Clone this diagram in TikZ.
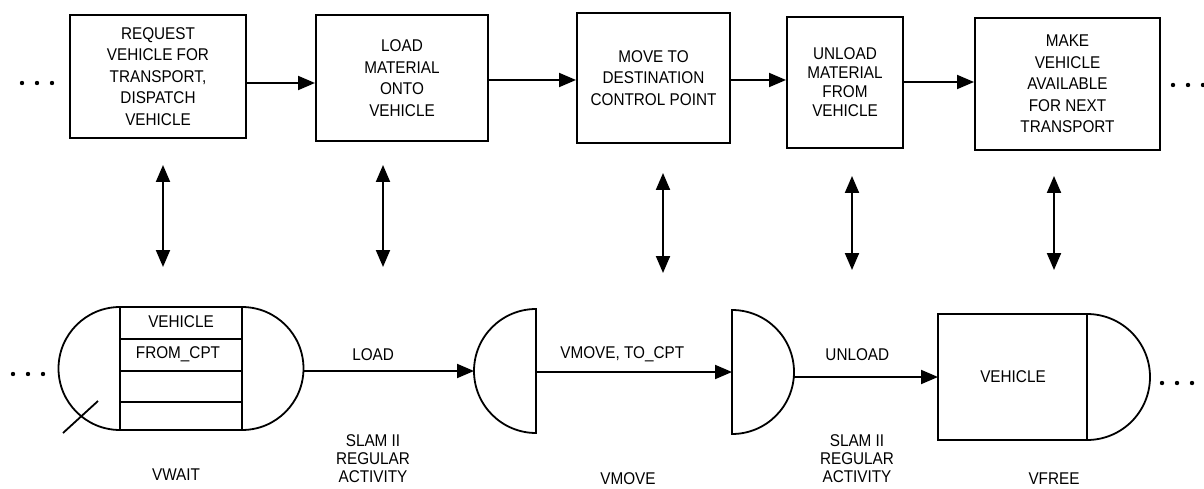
\documentclass[tikz,border=0pt]{standalone}
\usepackage{fontspec}
\setmainfont{Liberation Sans}[FakeStretch=0.9]
\usetikzlibrary{arrows.meta}

\tikzset{
	procbox/.style={draw, line width=2pt, align=center, inner sep=2pt, font=\fontsize{17}{21.5}\selectfont},
	flowarr/.style={line width=2pt, -{Triangle[length=17pt,width=14pt]}},
	dblarr/.style={line width=2pt, {Triangle[length=17pt,width=14pt]}-{Triangle[length=17pt,width=14pt]}},
	netline/.style={line width=1.8pt},
	lbl/.style={font=\fontsize{17}{18}\selectfont, align=center},
}

\begin{document}
\begin{tikzpicture}[x=1pt,y=-1pt]
			\useasboundingbox (0,0) rectangle (1204,489);
			%%%%% TOP ROW %%%%%
			
			\node[procbox, minimum width=176pt, minimum height=123pt] (request) at (158,76.5) {REQUEST\\VEHICLE FOR\\TRANSPORT,\\DISPATCH\\VEHICLE};
			\node[procbox, minimum width=172pt, minimum height=126pt] (load) at (402,78) {LOAD\\MATERIAL\\ONTO\\VEHICLE};
			\node[procbox, minimum width=153pt, minimum height=130pt] (move) at (653.5,78) {MOVE TO\\DESTINATION\\CONTROL POINT};
			\node[procbox, minimum width=116pt, minimum height=131pt, font=\fontsize{17}{19}\selectfont] (unload) at (845,82.5) {UNLOAD\\MATERIAL\\FROM\\VEHICLE};
			\node[procbox, minimum width=185pt, minimum height=132pt] (avail) at (1067.5,84) {MAKE\\VEHICLE\\AVAILABLE\\FOR NEXT\\TRANSPORT};
			
			\draw[flowarr] (request.east |- 0,83) -- (load.west |- 0,83);
			\draw[flowarr] (load.east |- 0,80) -- (move.west |- 0,80);
			\draw[flowarr] (move.east |- 0,80) -- (unload.west |- 0,80);
			\draw[flowarr] (unload.east |- 0,82) -- (avail.west |- 0,82);
			
			\foreach \dx in {0,15,30} \fill (22+\dx,83) circle (2.2);
			\foreach \dx in {0,15,30} \fill (1173+\dx,85) circle (2.2);
			
			%%%%% LINKS %%%%%
			
			\coordinate (l1t) at (163,165);  \coordinate (l1b) at (163,267);
			\coordinate (l2t) at (383,165);  \coordinate (l2b) at (383,267);
			\coordinate (l3t) at (663,173);  \coordinate (l3b) at (663,273);
			\coordinate (l4t) at (852,176);  \coordinate (l4b) at (852,270);
			\coordinate (l5t) at (1054,176); \coordinate (l5b) at (1054,270);
			\foreach \k in {1,...,5} \draw[dblarr] (l\k t) -- (l\k b);
			
			%%%%% NETWORK %%%%%
			
			% VWAIT queue
			\draw[netline] (120,307) -- (242,307) arc (-90:90:61.5) -- (120,430) arc (90:270:61.5) -- cycle;
			\draw[netline] (120,307) -- (120,430);
			\draw[netline] (242,307) -- (242,430);
			\foreach \ry in {339,371,402} \draw[netline] (120,\ry) -- (242,\ry);
			\node[lbl] (qattr1) at (181,322) {VEHICLE};
			\node[lbl] (qattr2) at (178,354) {FROM\_CPT};
			\draw[netline] (63,433) -- (98,401);
			\coordinate (vwait-out) at (303,371);
			
			% VMOVE free
			\draw[netline] (536,309) arc (270:90:62) -- cycle;
			\coordinate (vmove-in) at (474,371);
			\coordinate (vmove-out) at (536,372);
			
			% alter
			\draw[netline] (732,310) arc (-90:90:62) -- cycle;
			\coordinate (alter-in) at (732,372);
			\coordinate (alter-out) at (794,377);
			
			% VFREE free
			\draw[netline] (1087,314) arc (-90:90:63) -- (938,440) -- (938,314) -- cycle;
			\draw[netline] (1087,314) -- (1087,440);
			\node[lbl] (vfree) at (1013,377) {VEHICLE};
			\coordinate (vfree-in) at (938,377);
			
			\draw[flowarr] (vwait-out) -- node[lbl, above=6pt, pos=0.41] (act1) {LOAD} (vmove-in);
			\draw[flowarr] (vmove-out) -- node[lbl, above=6pt, pos=0.44] (act2) {VMOVE, TO\_CPT} (alter-in);
			\draw[flowarr] (alter-out) -- node[lbl, above=12pt, pos=0.44] (act3) {UNLOAD} (vfree-in);
			
			\foreach \dx in {0,15,30} \fill (13+\dx,374) circle (2.2);
			\foreach \dx in {0,15,30} \fill (1162+\dx,383) circle (2.2);
			
			\node[lbl] (slam1) at (373,459) {SLAM II\\REGULAR\\ACTIVITY};
			\node[lbl] (slam2) at (857,459) {SLAM II\\REGULAR\\ACTIVITY};
			\node[lbl] (nvwait) at (176,475) {VWAIT};
			\node[lbl] (nvmove) at (628,479) {VMOVE};
			\node[lbl] (nvfree) at (1054,479) {VFREE};
			
\end{tikzpicture}
\end{document}
